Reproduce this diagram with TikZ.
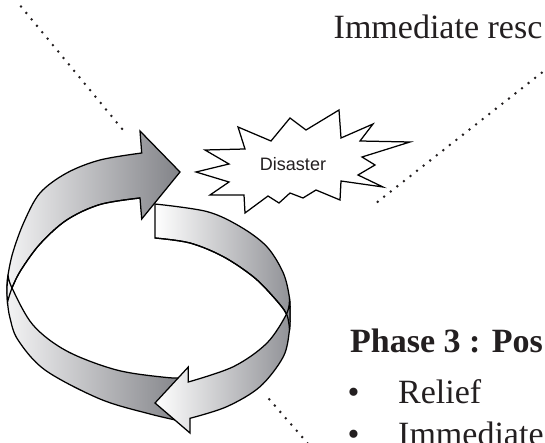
\documentclass[tikz,border=0pt]{standalone}
\usepackage{fontspec}
\setmainfont{Liberation Serif}
\newfontfamily\sansf{Liberation Sans}
\definecolor{txt}{RGB}{35,31,32}
\definecolor{aL}{RGB}{243,243,244}
\definecolor{aD}{RGB}{130,131,136}
\definecolor{bL}{RGB}{255,255,255}
\definecolor{bD}{RGB}{145,146,151}
\begin{document}
\begin{tikzpicture}[x=1pt,y=-1pt,
  outl/.style={draw=black, line width=1.25pt, line join=miter},
  shA/.style={left color=aL, right color=aD},
  shB/.style={left color=bL, right color=bD},
  dotline/.style={draw=txt, line width=2.8pt, line cap=round, dash pattern=on 0pt off 8.35pt},
  serif/.style={anchor=base west, inner sep=0pt, text=txt, font=\fontsize{34}{40}\selectfont},
  sm/.style={smooth, tension=0.55}
]
\useasboundingbox (0,0) rectangle (545,443);

% dotted guide lines
\coordinate (tl1) at (21,6.5);   \coordinate (tl2) at (123,130);
\coordinate (tr1) at (541.7,72.7); \coordinate (tr2) at (372.3,206);
\coordinate (bl1) at (269.3,399.3); \coordinate (bl2) at (310,446);
\draw[dotline] (tl1) -- (tl2);
\draw[dotline] (tr1) -- (tr2);
\draw[dotline] (bl1) -- (bl2);

% arrow 1 (back face)
\path[outl, shA] (140,198)
  -- plot[sm] coordinates {(140,198) (100,204.5) (66.7,220) (40,244) (21,270) (12,288) (7.5,302)}
  -- plot[sm] coordinates {(7.5,302) (7,288) (8,275) (13,252) (24,222) (40,193) (66.7,173) (100,160) (141.7,153)}
  -- (140,131) -- (180,172) -- (141.7,219) -- cycle;
% arrow 1 (front face)
\path[outl, shA] (185,377.5)
  -- plot[sm] coordinates {(185,377.5) (166.7,377.5) (116.7,370) (66.7,351) (33,325) (12,288) (8,275)}
  -- plot[sm] coordinates {(8,275) (7,288) (7.5,302) (10,318) (18,340) (45,370) (100,399) (150,414) (185,422)}
  -- cycle;
\draw[outl] plot[sm] coordinates {(140,198) (100,204.5) (66.7,220) (40,244) (21,270) (12,288) (7.5,302)};

% arrow 2 (back face)
\path[outl, shB] (155,204)
  -- plot[sm] coordinates {(155,204) (206.7,211.5) (240,226.5) (266.7,246.5) (283.3,273) (289.5,298) (290,314) (289.5,330)}
  -- plot[sm] coordinates {(289.5,330) (286.5,314) (273,296.5) (253,276.5) (223,256.5) (190,243) (155,238)}
  -- cycle;
% arrow 2 (front face)
\path[outl, shB] (289.5,298)
  -- plot[sm] coordinates {(289.5,298) (286.5,314) (266.7,343.3) (233.3,366.7) (188.3,382)}
  -- (188.3,367) -- (155,403) -- (190,433) -- (190,418.3)
  -- plot[sm] coordinates {(190,418.3) (226.7,406.7) (260,386.7) (283.3,356.7) (289.5,330) (290,314) (289.5,298)}
  -- cycle;
\draw[outl] plot[sm] coordinates {(289.5,330) (286.5,314) (273,296.5) (253,276.5) (223,256.5) (190,243) (155,238)};

% disaster star
\draw[outl, fill=white] (196,172) -- (229,164) -- (205,150) -- (245,149) -- (238,127) -- (271,141)
  -- (290,118) -- (306,130) -- (339,110) -- (341,138) -- (373,124) -- (360,141) -- (410,142)
  -- (362,157) -- (375,165) -- (358,175) -- (383,187) -- (341,181) -- (340,200) -- (316,190)
  -- (303,198) -- (290,193) -- (279,203) -- (268,196) -- (245,213) -- (244,195) -- (210,195)
  -- (229,182) -- cycle;
\node[font=\sansf\fontsize{18}{20}\selectfont, text=txt, inner sep=0pt] (dis) at (293,164) {Disaster};

% texts
\node[serif] (imm) at (333.5,38.3) {Immediate resc};
\node[serif, font=\bfseries\fontsize{34}{40}\selectfont] (ph3) at (350,352.7) {Phase 3 : Pos};
\node[serif] (b1) at (347.5,403) {•};
\node[serif] (relief) at (398,403) {Relief};
\node[serif] (b2) at (347.5,445) {•};
\node[serif] (imm2) at (398,445) {Immediate};
\end{tikzpicture}
\end{document}
